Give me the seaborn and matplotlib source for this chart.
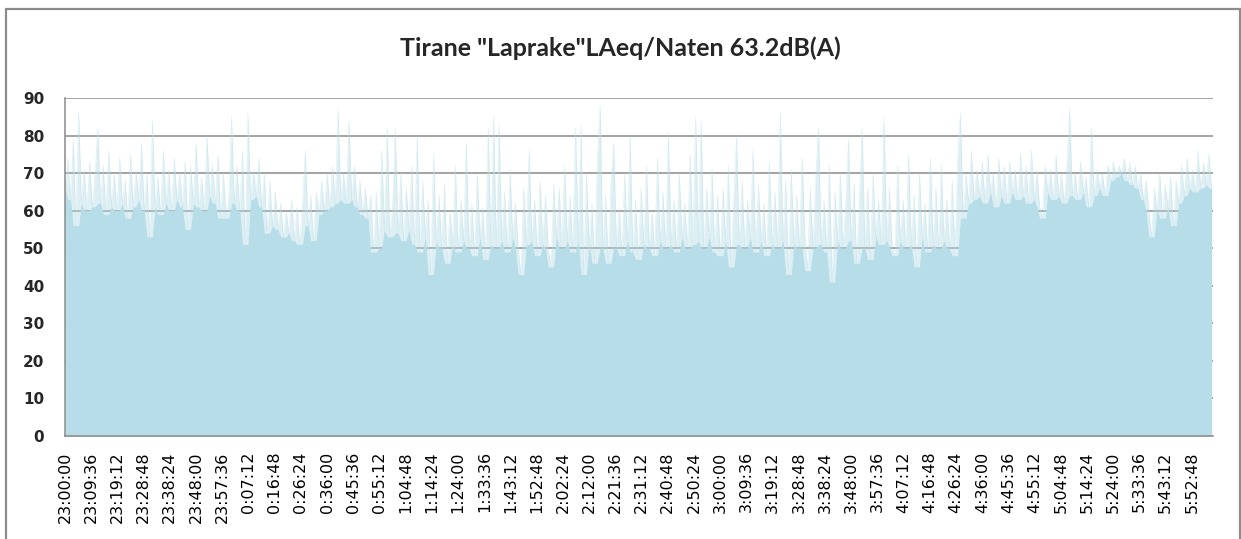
import numpy as np
import pandas as pd
import seaborn as sns
import matplotlib.pyplot as plt
from matplotlib.patches import Rectangle

# one reading per minute (dB(A))
h23 = [66, 74, 63, 79, 56, 86, 62, 71, 60, 73, 61, 70, 82, 62, 72, 59, 76, 61, 70, 60,
       74, 62, 68, 58, 75, 61, 71, 63, 78, 60, 70, 53, 84, 61, 69, 59, 76, 62, 71, 60,
       74, 63, 70, 61, 73, 55, 72, 62, 78, 61, 69, 60, 80, 64, 72, 62, 75, 58, 70, 58]
h00 = [64, 85, 62, 72, 60, 76, 51, 86, 63, 71, 64, 74, 61, 70, 54, 68, 56, 65, 55, 62,
       53, 60, 54, 63, 52, 61, 51, 62, 76, 56, 64, 52, 65, 59, 68, 60, 70, 61, 72, 62,
       87, 63, 70, 62, 84, 63, 72, 61, 68, 59, 66, 58, 64, 49, 65, 50, 76, 55, 82, 53]
h01 = [62, 82, 54, 70, 52, 66, 55, 72, 51, 80, 49, 68, 53, 63, 43, 75, 52, 64, 50, 67,
       46, 60, 51, 72, 49, 63, 52, 78, 50, 62, 48, 70, 53, 61, 47, 82, 51, 85, 50, 83,
       52, 65, 49, 71, 53, 62, 50, 43, 66, 51, 76, 52, 63, 48, 68, 51, 64, 50, 45, 67]
h02 = [53, 66, 50, 72, 52, 64, 49, 82, 52, 83, 43, 70, 51, 62, 46, 74, 88, 50, 64, 46,
       68, 78, 50, 61, 48, 70, 52, 80, 49, 63, 47, 66, 51, 72, 50, 60, 48, 74, 52, 65,
       50, 81, 51, 63, 49, 70, 53, 62, 50, 75, 51, 85, 52, 84, 50, 66, 53, 71, 49, 64]
h03 = [48, 66, 52, 72, 45, 64, 80, 51, 68, 50, 63, 53, 76, 49, 67, 52, 62, 48, 73, 51,
       65, 50, 86, 52, 68, 43, 71, 51, 64, 50, 74, 53, 44, 66, 50, 69, 82, 51, 63, 49,
       72, 41, 65, 52, 70, 50, 62, 79, 52, 67, 46, 64, 82, 50, 66, 47, 70, 53, 63, 51]
h04 = [85, 52, 66, 50, 48, 72, 52, 63, 50, 75, 51, 64, 45, 70, 53, 62, 49, 74, 51, 66,
       50, 72, 52, 63, 50, 68, 48, 74, 86, 58, 70, 62, 76, 63, 71, 64, 73, 62, 75, 65,
       70, 61, 74, 64, 72, 62, 73, 65, 71, 63, 75, 64, 72, 62, 76, 63, 71, 61, 58, 72]
h05 = [65, 71, 63, 75, 64, 70, 62, 72, 87, 64, 70, 63, 73, 65, 69, 61, 82, 64, 71, 66,
       70, 64, 72, 68, 73, 69, 72, 70, 74, 68, 73, 67, 72, 66, 70, 63, 68, 60, 53, 66,
       60, 70, 58, 67, 61, 69, 56, 68, 62, 72, 64, 74, 66, 71, 65, 76, 66, 73, 67, 75, 66]

tick_labels = ["23:00:00", "23:09:36", "23:19:12", "23:28:48", "23:38:24", "23:48:00",
               "23:57:36", "0:07:12", "0:16:48", "0:26:24", "0:36:00", "0:45:36",
               "0:55:12", "1:04:48", "1:14:24", "1:24:00", "1:33:36", "1:43:12",
               "1:52:48", "2:02:24", "2:12:00", "2:21:36", "2:31:12", "2:40:48",
               "2:50:24", "3:00:00", "3:09:36", "3:19:12", "3:28:48", "3:38:24",
               "3:48:00", "3:57:36", "4:07:12", "4:16:48", "4:26:24", "4:36:00",
               "4:45:36", "4:55:12", "5:04:48", "5:14:24", "5:24:00", "5:33:36",
               "5:43:12", "5:52:48"]

title = 'Tirane "Laprake"LAeq/Naten 63.2dB(A)'

level = h23 + h00 + h01 + h02 + h03 + h04 + h05
df = pd.DataFrame({"minute": np.arange(len(level)), "LAeq": level})
df["floor"] = df["LAeq"].rolling(3, center=True, min_periods=1).min()

fill = "#B7DDE8"
grid = "#8A8A8A"

sns.set_style("white")
fig = plt.figure(figsize=(12.41, 5.39), dpi=100)
ax = fig.add_axes([0.0524, 0.1911, 0.925, 0.6271])

ax.fill_between(df["minute"], 0, df["floor"], color=fill, lw=0, zorder=2)
ax.fill_between(df["minute"], 0, df["LAeq"], color=fill, alpha=0.45, lw=0, zorder=2)
sns.lineplot(data=df, x="minute", y="LAeq", ax=ax, color=fill, lw=0.4, alpha=0.5, zorder=2)

ax.set_xlim(0, len(level) - 0.5)
ax.set_ylim(0, 90)
ax.set_yticks(range(0, 91, 10))
ax.set_xticks(np.arange(len(tick_labels)) * 9.6)
ax.set_xticklabels(tick_labels, rotation=90, fontsize=11.5, color="black")
ax.tick_params(axis="x", length=0, pad=11)
ax.tick_params(axis="y", length=0, pad=15, labelsize=11)
for t in ax.get_yticklabels():
    t.set_fontweight("bold")
ax.set_xlabel("")
ax.set_ylabel("")

ax.grid(axis="y", color=grid, lw=1.1, zorder=0)
ax.set_axisbelow(True)
for s in ["top", "right"]:
    ax.spines[s].set_visible(False)
for s in ["left", "bottom"]:
    ax.spines[s].set_color(grid)
    ax.spines[s].set_linewidth(1.1)

fig.text(0.5, 0.91, title, ha="center", va="center", fontsize=18,
         fontweight="bold", family="Lato")
fig.patches.append(Rectangle((0.0048, -0.05), 0.9944, 1.0333, transform=fig.transFigure,
                             fill=False, edgecolor="#8C8C8C", lw=1.6))

plt.savefig("out.png", dpi=100)
